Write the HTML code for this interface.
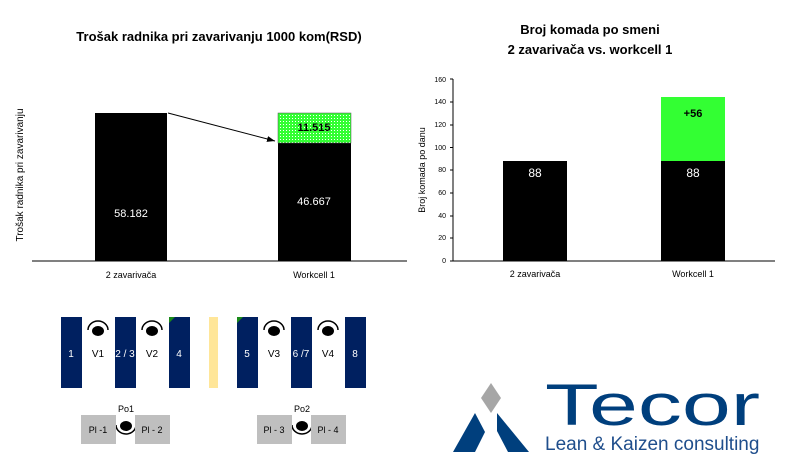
<!DOCTYPE html>
<html><head><meta charset="utf-8"><style>
body{margin:0;background:#fff;}
svg text{font-family:"Liberation Sans",sans-serif;}
</style></head><body>
<svg width="791" height="462" viewBox="0 0 791 462" xmlns="http://www.w3.org/2000/svg">
<defs>
<pattern id="dots" width="3" height="3" patternUnits="userSpaceOnUse">
<rect width="3" height="3" fill="#33ff33"/><rect x="1" y="1" width="1" height="1" fill="#fff"/>
</pattern>
<marker id="ar" markerWidth="8" markerHeight="6" refX="8" refY="3" orient="auto"><path d="M0,0 L8,3 L0,6z" fill="#000"/></marker>
</defs>
<!-- Left chart -->
<text x="219" y="41" font-size="13" font-weight="bold" text-anchor="middle">Trošak radnika pri zavarivanju 1000 kom(RSD)</text>
<text transform="translate(23,175) rotate(-90)" font-size="10" text-anchor="middle">Trošak radnika pri zavarivanju</text>
<line x1="32" y1="261" x2="407" y2="261" stroke="#000" stroke-width="1"/>
<rect x="95" y="113" width="72" height="148" fill="#000"/>
<text x="131" y="217" font-size="11" fill="#fff" text-anchor="middle">58.182</text>
<rect x="278" y="143" width="73" height="118" fill="#000"/>
<rect x="278" y="113" width="73" height="30" fill="url(#dots)" stroke="#555" stroke-width="0.5"/>
<text x="314" y="131" font-size="11" font-weight="bold" text-anchor="middle">11.515</text>
<text x="314" y="205" font-size="11" fill="#fff" text-anchor="middle">46.667</text>
<line x1="168" y1="113" x2="275" y2="141" stroke="#000" stroke-width="1" marker-end="url(#ar)"/>
<text x="131" y="278" font-size="9" text-anchor="middle">2 zavarivača</text>
<text x="314" y="278" font-size="9" text-anchor="middle">Workcell 1</text>
<!-- Right chart -->
<text x="590" y="34" font-size="13" font-weight="bold" text-anchor="middle">Broj komada po smeni</text>
<text x="590" y="54" font-size="13" font-weight="bold" text-anchor="middle">2 zavarivača vs. workcell 1</text>
<text transform="translate(425,170) rotate(-90)" font-size="9" text-anchor="middle">Broj komada po danu</text>
<line x1="453" y1="79" x2="453" y2="261" stroke="#000"/>
<line x1="453" y1="261" x2="775" y2="261" stroke="#000"/>
<g font-size="7" text-anchor="end">
<text x="446" y="263">0</text><text x="446" y="240">20</text><text x="446" y="218">40</text><text x="446" y="195">60</text>
<text x="446" y="172">80</text><text x="446" y="150">100</text><text x="446" y="127">120</text><text x="446" y="104">140</text><text x="446" y="82">160</text>
</g>
<g stroke="#000"><line x1="450" y1="261" x2="453" y2="261"/><line x1="450" y1="238" x2="453" y2="238"/><line x1="450" y1="216" x2="453" y2="216"/><line x1="450" y1="193" x2="453" y2="193"/><line x1="450" y1="170" x2="453" y2="170"/><line x1="450" y1="147.5" x2="453" y2="147.5"/><line x1="450" y1="125" x2="453" y2="125"/><line x1="450" y1="102" x2="453" y2="102"/><line x1="450" y1="79" x2="453" y2="79"/></g>
<rect x="503" y="161" width="64" height="100" fill="#000"/>
<text x="535" y="177" font-size="12" fill="#fff" text-anchor="middle">88</text>
<rect x="661" y="161" width="64" height="100" fill="#000"/>
<rect x="661" y="97" width="64" height="64" fill="#33ff33"/>
<text x="693" y="117" font-size="11" font-weight="bold" text-anchor="middle">+56</text>
<text x="693" y="177" font-size="12" fill="#fff" text-anchor="middle">88</text>
<text x="535" y="277" font-size="9" text-anchor="middle">2 zavarivača</text>
<text x="693" y="277" font-size="9" text-anchor="middle">Workcell 1</text>
<!-- Layout diagram -->
<g fill="#002060">
<rect x="61" y="317" width="21" height="71"/><rect x="115" y="317" width="21" height="71"/><rect x="169" y="317" width="21" height="71"/>
<rect x="237" y="317" width="21" height="71"/><rect x="291" y="317" width="21" height="71"/><rect x="345" y="317" width="21" height="71"/>
</g>
<rect x="209" y="317" width="9" height="71" fill="#ffe699"/>
<path d="M169,317 h6 l-6,6z M237,317 h6 l-6,6z" fill="#1a8a1a"/>
<g font-size="10" text-anchor="middle">
<text x="71" y="357" fill="#fff">1</text><text x="98" y="357">V1</text><text x="125" y="357" fill="#fff">2 / 3</text><text x="152" y="357">V2</text><text x="179" y="357" fill="#fff">4</text>
<text x="247" y="357" fill="#fff">5</text><text x="274" y="357">V3</text><text x="301" y="357" fill="#fff">6 /7</text><text x="328" y="357">V4</text><text x="355" y="357" fill="#fff">8</text>
</g>
<g fill="#000">
<ellipse cx="98" cy="331" rx="6" ry="5"/><ellipse cx="152" cy="331" rx="6" ry="5"/><ellipse cx="274" cy="331" rx="6" ry="5"/><ellipse cx="328" cy="331" rx="6" ry="5"/>
<ellipse cx="126" cy="426" rx="6" ry="5"/><ellipse cx="302" cy="426" rx="6" ry="5"/>
</g>
<g fill="none" stroke="#000" stroke-width="1.5">
<path d="M88,330 A10,9 0 0 1 108,330"/><path d="M142,330 A10,9 0 0 1 162,330"/><path d="M264,330 A10,9 0 0 1 284,330"/><path d="M318,330 A10,9 0 0 1 338,330"/>
<path d="M116,425 A10,9 0 0 0 136,425"/><path d="M292,425 A10,9 0 0 0 312,425"/>
</g>
<g fill="#bfbfbf">
<rect x="81" y="415" width="35" height="29"/><rect x="135" y="415" width="35" height="29"/>
<rect x="257" y="415" width="35" height="29"/><rect x="311" y="415" width="35" height="29"/>
</g>
<g font-size="9" text-anchor="middle">
<text x="98" y="433">Pl -1</text><text x="152" y="433">Pl - 2</text><text x="274" y="433">Pl - 3</text><text x="328" y="433">Pl - 4</text>
<text x="126" y="412">Po1</text><text x="302" y="412">Po2</text>
</g>
<!-- Logo -->
<polygon points="491,383 501,398 491,413 481,398" fill="#a6a6a6"/>
<polygon points="453,452 475,413 485,432 475,452" fill="#003f7d"/>
<polygon points="497,413 529,452 508,452 497,431 " fill="#003f7d"/>
<text x="545" y="425" font-size="58" fill="#003f7d" textLength="215" lengthAdjust="spacingAndGlyphs">Tecor</text>
<text x="545" y="450" font-size="19" fill="#1f4e8c">Lean &amp; Kaizen consulting</text>
</svg>
</body></html>
